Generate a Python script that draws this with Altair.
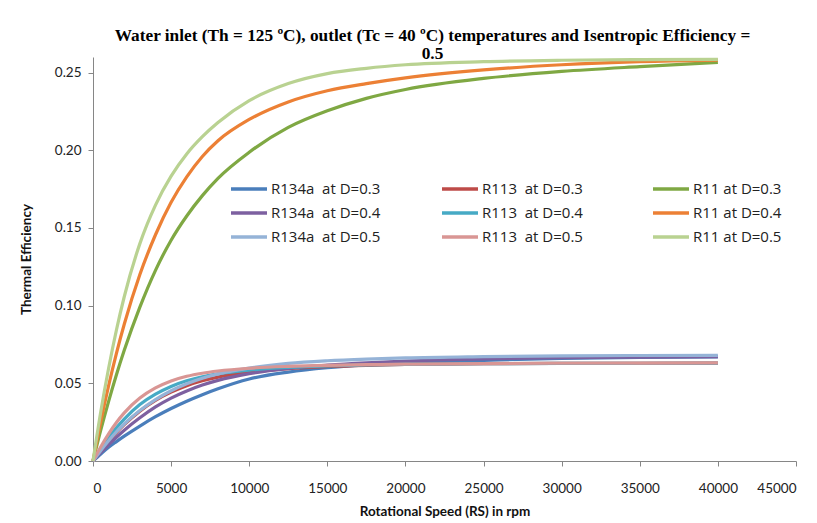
import altair as alt
import pandas as pd

# Rotational speed (rpm) sample points
rpm = [0, 500, 1000, 1500, 2000, 3000, 4000, 5000, 6000, 7000, 8000, 10000,
       12500, 15000, 17500, 20000, 25000, 30000, 35000, 40000]

# Thermal efficiency
r134a_d03 = [0, 0.0045, 0.0088, 0.0125, 0.0160, 0.0225, 0.0285, 0.0338, 0.0385, 0.0427,
             0.0465, 0.0528, 0.0572, 0.0600, 0.0618, 0.0631, 0.0648, 0.0660, 0.0667, 0.0670]
r113_d03 = [0, 0.0066, 0.0127, 0.0183, 0.0234, 0.0321, 0.0390, 0.0443, 0.0485, 0.0516,
            0.0540, 0.0571, 0.0595, 0.0608, 0.0616, 0.0621, 0.0626, 0.0628, 0.0629, 0.0630]
r11_d03 = [0, 0.0200, 0.0384, 0.0555, 0.0712, 0.0990, 0.1227, 0.1421, 0.1577, 0.1708,
           0.1819, 0.1987, 0.2147, 0.2254, 0.2334, 0.2391, 0.2462, 0.2507, 0.2538, 0.2565]
r134a_d04 = [0, 0.0055, 0.0105, 0.0153, 0.0198, 0.0278, 0.0348, 0.0405, 0.0451, 0.0489,
             0.0519, 0.0562, 0.0596, 0.0617, 0.0632, 0.0643, 0.0657, 0.0665, 0.0669, 0.0672]
r113_d04 = [0, 0.0078, 0.0150, 0.0214, 0.0270, 0.0363, 0.0430, 0.0480, 0.0516, 0.0542,
            0.0561, 0.0585, 0.0602, 0.0612, 0.0618, 0.0622, 0.0626, 0.0628, 0.0629, 0.0630]
r11_d04 = [0, 0.0255, 0.0485, 0.0693, 0.0880, 0.1200, 0.1456, 0.1665, 0.1829, 0.1960,
           0.2061, 0.2198, 0.2311, 0.2383, 0.2429, 0.2466, 0.2517, 0.2550, 0.2570, 0.2580]
r134a_d05 = [0, 0.0068, 0.0130, 0.0187, 0.0238, 0.0325, 0.0395, 0.0452, 0.0497, 0.0533,
             0.0561, 0.0598, 0.0628, 0.0645, 0.0656, 0.0664, 0.0672, 0.0677, 0.0679, 0.0680]
r113_d05 = [0, 0.0092, 0.0175, 0.0248, 0.0310, 0.0405, 0.0470, 0.0515, 0.0545, 0.0565,
            0.0579, 0.0597, 0.0609, 0.0616, 0.0620, 0.0623, 0.0627, 0.0629, 0.0630, 0.0631]
r11_d05 = [0, 0.0319, 0.0597, 0.0843, 0.1057, 0.1399, 0.1647, 0.1833, 0.1976, 0.2087,
           0.2178, 0.2319, 0.2429, 0.2493, 0.2527, 0.2550, 0.2570, 0.2579, 0.2583, 0.2585]

# Series in drawing order (as in the original workbook)
series_names = [
    "R134a\u00a0 at D=0.3", "R113\u00a0 at D=0.3", "R11 at D=0.3",
    "R134a\u00a0 at D=0.4", "R113\u00a0 at D=0.4", "R11 at D=0.4",
    "R134a\u00a0 at D=0.5", "R113\u00a0 at D=0.5", "R11 at D=0.5",
]
series_values = [r134a_d03, r113_d03, r11_d03,
                 r134a_d04, r113_d04, r11_d04,
                 r134a_d05, r113_d05, r11_d05]
series_colors = ["#4A7EBB", "#BE4B48", "#7FA843",
                 "#7D60A0", "#46AAC5", "#EC8035",
                 "#95B3D7", "#D99694", "#B9D291"]

# Legend fills column by column: reorder so rows read like the reference
legend_order = [0, 3, 6, 1, 4, 7, 2, 5, 8]
legend_names = [series_names[i] for i in legend_order]
legend_colors = [series_colors[i] for i in legend_order]

rows = []
for name, ys in zip(series_names, series_values):
    for x, y in zip(rpm, ys):
        rows.append({"rpm": x, "eff": y, "series": name})
df = pd.DataFrame(rows)

chart = alt.Chart(df).mark_line(interpolate="monotone", strokeWidth=3.2).encode(
    x=alt.X("rpm:Q",
            scale=alt.Scale(domain=[0, 45000], nice=False),
            axis=alt.Axis(values=list(range(0, 45001, 5000)), format="d",
                          title="Rotational Speed (RS) in rpm", grid=False,
                          tickSize=5, labelPadding=15, titlePadding=10)),
    y=alt.Y("eff:Q",
            scale=alt.Scale(domain=[0, 0.26], nice=False),
            axis=alt.Axis(values=[0, 0.05, 0.10, 0.15, 0.20, 0.25], format=".2f",
                          title="Thermal Efficiency", grid=False,
                          tickSize=5, labelPadding=7, titlePadding=21)),
    color=alt.Color("series:N",
                    scale=alt.Scale(domain=legend_names, range=legend_colors),
                    sort=legend_names,
                    title=None,
                    legend=alt.Legend(orient="none", legendX=144, legendY=120,
                                      columns=3, gridAlign="all", columnPadding=54,
                                      rowPadding=4, symbolType="M-1.8,0H1.8",
                                      symbolSize=400, symbolStrokeWidth=3.5,
                                      labelOffset=10, labelFontSize=15, labelLimit=200,
                                      labelFont="Open Sans", labelColor="#222222")),
).properties(
    width=703,
    height=404,
    autosize=alt.AutoSizeParams(type="none"),
    padding={"left": 85, "top": 49, "right": 13, "bottom": 58},
    title=alt.TitleParams(
        text=["Water inlet (Th = 125 \u00baC), outlet (Tc = 40 \u00baC) temperatures and Isentropic Efficiency = ", "0.5"],
        font="Liberation Serif", fontSize=17.3, fontWeight="bold", color="#000000",
        anchor="middle", frame="group", dx=-12, offset=-9, lineHeight=18),
).configure_view(
    stroke=None
).configure_axis(
    domainColor="#868686", tickColor="#868686", labelFont="Lato", labelFontSize=13.5,
    labelColor="#222222", titleFont="Lato", titleFontSize=13.5, titleFontWeight="bold",
    titleColor="#111111"
)

chart.save("out.html", embed_options={"renderer": "svg", "actions": False})
